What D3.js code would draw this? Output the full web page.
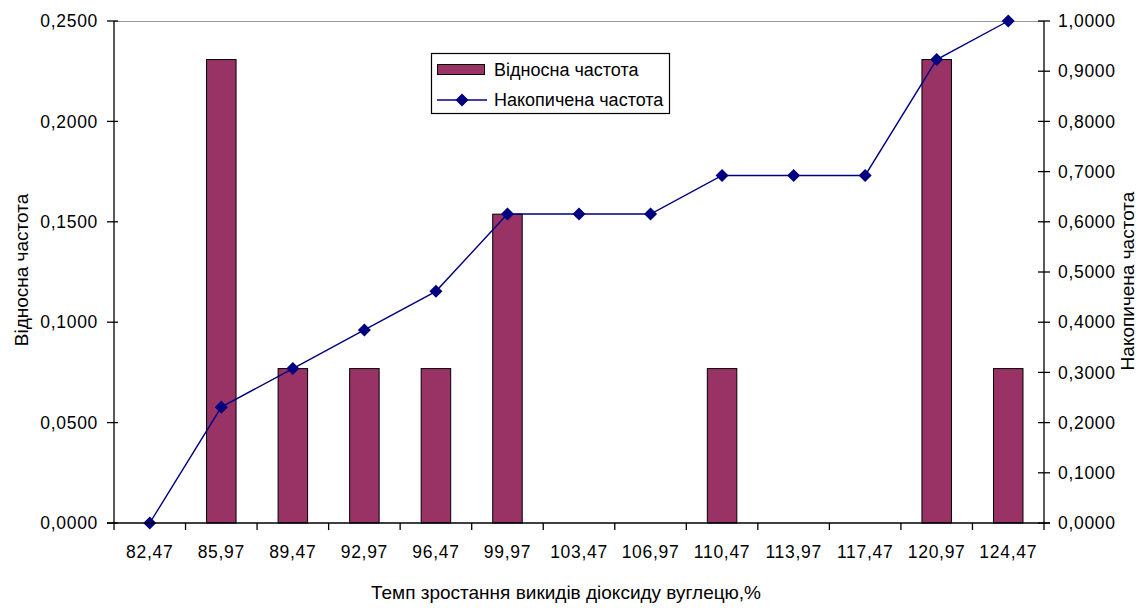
<!DOCTYPE html>
<html>
<head>
<meta charset="utf-8">
<script src="https://cdn.jsdelivr.net/npm/d3@7"></script>
<style>
  html, body { margin: 0; padding: 0; background: #fff; }
  svg { display: block; font-family: "Liberation Sans", Arial, sans-serif; }
</style>
</head>
<body>
<svg id="chart" width="1140" height="608"></svg>
<script>
// Interval midpoints of CO2 emission growth rate, %
const categories = ["82,47", "85,97", "89,47", "92,97", "96,47", "99,97", "103,47",
                    "106,97", "110,47", "113,97", "117,47", "120,97", "124,47"];
// Relative frequency per interval (left axis)
const relFreq = [0, 0.2308, 0.0769, 0.0769, 0.0769, 0.1538, 0, 0, 0.0769, 0, 0, 0.2308, 0.0769];
// Cumulative frequency (right axis)
const cumFreq = [0, 0.2308, 0.3077, 0.3846, 0.4615, 0.6154, 0.6154, 0.6154, 0.6923, 0.6923, 0.6923, 0.9231, 1.0];
// Axis tick values
const leftTicks = [0, 0.05, 0.10, 0.15, 0.20, 0.25];
const rightTicks = [0, 0.1, 0.2, 0.3, 0.4, 0.5, 0.6, 0.7, 0.8, 0.9, 1.0];

const svg = d3.select("#chart");
const m = { left: 114, right: 1044, top: 21, bottom: 523 };

const x = d3.scaleBand().domain(categories).range([m.left, m.right]).paddingInner(0).paddingOuter(0);
const yL = d3.scaleLinear().domain([0, 0.25]).range([m.bottom, m.top]);
const yR = d3.scaleLinear().domain([0, 1]).range([m.bottom, m.top]);

const fmt = v => d3.format(".4f")(v).replace(".", ",");
const tickFont = "17.5px";
const tickSpacing = "0.7px";
const titleFont = "19px";
const legendFont = "18px";

// top border of plot area
svg.append("line")
  .attr("x1", m.left).attr("x2", m.right)
  .attr("y1", m.top + 0.5).attr("y2", m.top + 0.5)
  .attr("stroke", "#999").attr("stroke-width", 1.2);

// bars
const bw = 29.5;
svg.append("g").selectAll("rect")
  .data(categories.map((c, i) => ({ c, v: relFreq[i] })).filter(d => d.v > 0))
  .join("rect")
  .attr("x", d => x(d.c) + x.bandwidth() / 2 - bw / 2)
  .attr("y", d => yL(d.v))
  .attr("width", bw)
  .attr("height", d => yL(0) - yL(d.v))
  .attr("fill", "#993366")
  .attr("stroke", "#000")
  .attr("stroke-width", 1);

// cumulative line
const line = d3.line()
  .x((d, i) => x(categories[i]) + x.bandwidth() / 2)
  .y(d => yR(d));
svg.append("path")
  .datum(cumFreq)
  .attr("d", line)
  .attr("fill", "none")
  .attr("stroke", "#000080")
  .attr("stroke-width", 1.4);

const marker = d3.symbol().type(d3.symbolSquare).size(85);
svg.append("g").selectAll("path")
  .data(cumFreq)
  .join("path")
  .attr("transform", (d, i) => `translate(${x(categories[i]) + x.bandwidth() / 2},${yR(d)}) rotate(45)`)
  .attr("d", marker)
  .attr("fill", "#000080");

// left axis
const gL = svg.append("g");
gL.append("line").attr("x1", m.left).attr("x2", m.left).attr("y1", m.top).attr("y2", m.bottom)
  .attr("stroke", "#000").attr("stroke-width", 1.3);
leftTicks.forEach(t => {
  gL.append("line").attr("x1", m.left - 7).attr("x2", m.left + 4)
    .attr("y1", yL(t)).attr("y2", yL(t)).attr("stroke", "#000").attr("stroke-width", 1.3);
  gL.append("text").attr("x", m.left - 16).attr("y", yL(t)).attr("dy", "0.35em")
    .attr("text-anchor", "end").attr("font-size", tickFont).attr("letter-spacing", tickSpacing)
    .attr("fill", "#000").text(fmt(t));
});

// right axis
const gR = svg.append("g");
gR.append("line").attr("x1", m.right).attr("x2", m.right).attr("y1", m.top).attr("y2", m.bottom)
  .attr("stroke", "#000").attr("stroke-width", 1.3);
rightTicks.forEach(t => {
  gR.append("line").attr("x1", m.right - 6).attr("x2", m.right + 6)
    .attr("y1", yR(t)).attr("y2", yR(t)).attr("stroke", "#000").attr("stroke-width", 1.3);
  gR.append("text").attr("x", m.right + 14).attr("y", yR(t)).attr("dy", "0.35em")
    .attr("text-anchor", "start").attr("font-size", tickFont).attr("letter-spacing", tickSpacing)
    .attr("fill", "#000").text(fmt(t));
});

// bottom axis
const gB = svg.append("g");
gB.append("line").attr("x1", m.left - 7).attr("x2", m.right + 6).attr("y1", m.bottom).attr("y2", m.bottom)
  .attr("stroke", "#000").attr("stroke-width", 1.3);
const edges = categories.map(c => x(c)).concat([m.right]);
edges.forEach(e => {
  gB.append("line").attr("x1", e).attr("x2", e).attr("y1", m.bottom).attr("y2", m.bottom + 7)
    .attr("stroke", "#000").attr("stroke-width", 1.3);
});
categories.forEach(c => {
  gB.append("text").attr("x", x(c) + x.bandwidth() / 2).attr("y", 558)
    .attr("text-anchor", "middle").attr("font-size", tickFont).attr("letter-spacing", tickSpacing)
    .attr("fill", "#000").text(c);
});

// axis titles
svg.append("text").attr("transform", `translate(28,270) rotate(-90)`)
  .attr("text-anchor", "middle").attr("font-size", titleFont).attr("fill", "#000").text("Відносна частота");
svg.append("text").attr("transform", `translate(1134,281) rotate(-90)`)
  .attr("text-anchor", "middle").attr("font-size", titleFont).attr("fill", "#000").text("Накопичена частота");
svg.append("text").attr("x", 566).attr("y", 599)
  .attr("text-anchor", "middle").attr("font-size", titleFont).attr("fill", "#000")
  .text("Темп зростання викидів діоксиду вуглецю,%");

// legend
const lg = svg.append("g");
lg.append("rect").attr("x", 431.5).attr("y", 53.5).attr("width", 238).attr("height", 60)
  .attr("fill", "#fff").attr("stroke", "#000").attr("stroke-width", 1.2);
lg.append("rect").attr("x", 437.5).attr("y", 64.5).attr("width", 47).attr("height", 10)
  .attr("fill", "#993366").attr("stroke", "#000").attr("stroke-width", 1);
lg.append("text").attr("x", 494).attr("y", 70).attr("dy", "0.35em")
  .attr("font-size", legendFont).attr("fill", "#000").text("Відносна частота");
lg.append("line").attr("x1", 437).attr("x2", 487).attr("y1", 100).attr("y2", 100)
  .attr("stroke", "#000080").attr("stroke-width", 1.4);
lg.append("path").attr("transform", "translate(462,100) rotate(45)")
  .attr("d", marker).attr("fill", "#000080");
lg.append("text").attr("x", 494).attr("y", 100).attr("dy", "0.35em")
  .attr("font-size", legendFont).attr("fill", "#000").text("Накопичена частота");
</script>
</body>
</html>
